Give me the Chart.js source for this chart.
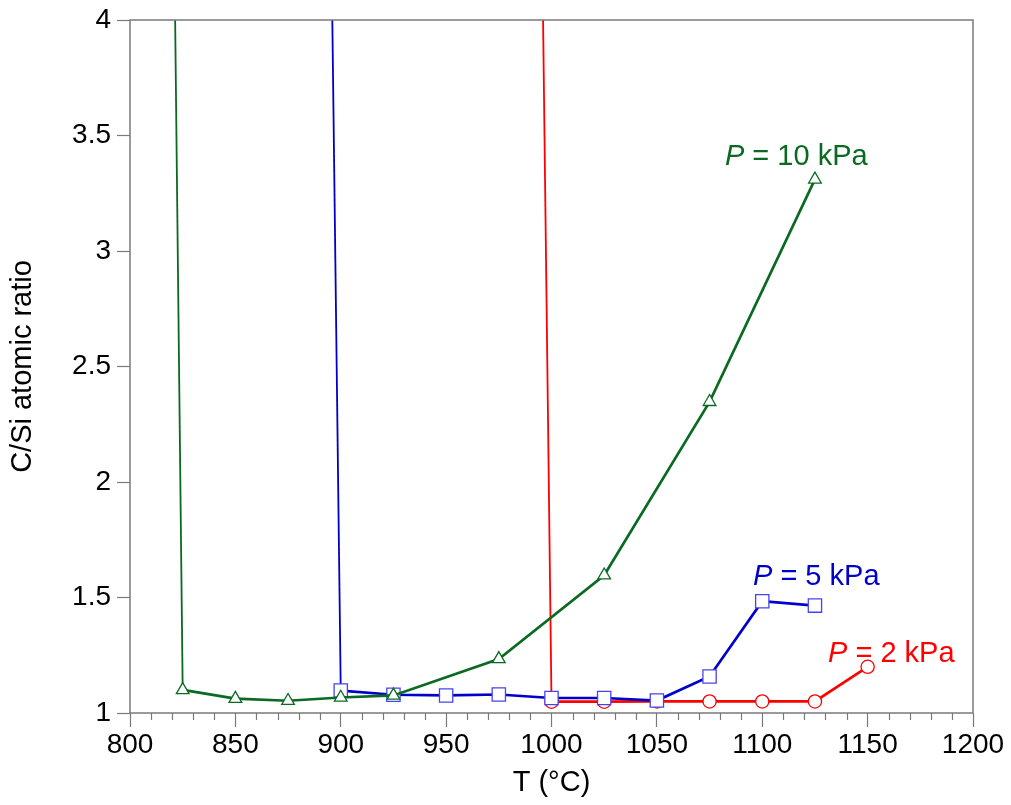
<!DOCTYPE html>
<html>
<head>
<meta charset="utf-8">
<title>C/Si atomic ratio vs temperature</title>
<script src="https://cdn.jsdelivr.net/npm/chart.js@4.4.1/dist/chart.umd.min.js"></script>
<style>
  html, body { margin: 0; padding: 0; background: #fff; }
  #wrap { width: 1011px; height: 805px; position: relative; }
</style>
</head>
<body>
<div id="wrap"><canvas id="main-chart"></canvas></div>
<script>
// ---- Data: deposition temperature (°C) vs C/Si atomic ratio per total pressure ----
// first point of each series sits above the plotted range (steep rise below threshold)
const temp10kPa = [815, 825, 850, 875, 900, 925, 975, 1025, 1075, 1125];
const ratio10kPa = [9.2, 1.10, 1.062, 1.053, 1.067, 1.076, 1.234, 1.596, 2.347, 3.31];

const temp5kPa = [890, 900, 925, 950, 975, 1000, 1025, 1050, 1075, 1100, 1125];
const ratio5kPa = [8.36, 1.097, 1.079, 1.076, 1.08, 1.065, 1.065, 1.054, 1.158, 1.484, 1.465];

const temp2kPa = [990, 1000, 1025, 1050, 1075, 1100, 1125, 1150];
const ratio2kPa = [8.42, 1.049, 1.049, 1.05, 1.05, 1.05, 1.05, 1.20];

const xTickLabels = [800, 850, 900, 950, 1000, 1050, 1100, 1150, 1200];
const yTickLabels = [1, 1.5, 2, 2.5, 3, 3.5, 4];

// series labels: [pressure text, anchor T, anchor ratio]
const seriesLabels = [
  { text: " = 10 kPa", x: 1082.3, y: 3.372 },
  { text: " = 5 kPa", x: 1095.6, y: 1.553 },
  { text: " = 2 kPa", x: 1131.2, y: 1.222 },
];

const GREEN = "#0b6a22";
const BLUE = "#0000cc";
const RED = "#ff0000";
const AXIS_GREY = "#7a7a7a";
const FONT = "'Liberation Sans', Arial, Helvetica, sans-serif";

function toPoints(xs, ys) {
  return xs.map((x, i) => ({ x, y: ys[i] }));
}

function series(label, xs, ys, colour, markerColour, style, radius) {
  return {
    label,
    data: toPoints(xs, ys),
    borderColor: colour,
    borderWidth: 2.7,
    pointStyle: style,
    pointRadius: (ctx) => (ctx.dataIndex === 0 ? 0 : radius),
    pointBorderColor: markerColour,
    pointBackgroundColor: "#ffffff",
    pointBorderWidth: 1.3,
    tension: 0,
    segment: {
      borderWidth: (ctx) => (ctx.p0DataIndex === 0 ? 1.8 : 2.7),
    },
  };
}

// frame around plot area + short minor ticks every 10 °C
const framePlugin = {
  id: "frame",
  afterDraw(chart) {
    const { ctx, chartArea: a } = chart;
    const xs = chart.scales.x;
    ctx.save();
    ctx.strokeStyle = AXIS_GREY;
    ctx.lineWidth = 1.5;
    ctx.strokeRect(a.left, a.top, a.right - a.left, a.bottom - a.top);
    ctx.lineWidth = 1.2;
    ctx.beginPath();
    for (let t = xs.min; t <= xs.max; t += 10) {
      if (t % 50 === 0) continue;
      const px = Math.round(xs.getPixelForValue(t)) + 0.5;
      ctx.moveTo(px, a.bottom);
      ctx.lineTo(px, a.bottom + 7);
    }
    ctx.stroke();
    ctx.restore();
  },
};

// "P = n kPa" labels with italic P
const seriesLabelPlugin = {
  id: "seriesLabels",
  afterDatasetsDraw(chart) {
    const { ctx } = chart;
    const xs = chart.scales.x;
    const ys = chart.scales.y;
    const colours = [GREEN, BLUE, RED];
    ctx.save();
    ctx.textBaseline = "alphabetic";
    ctx.textAlign = "left";
    seriesLabels.forEach((lab, i) => {
      const px = xs.getPixelForValue(lab.x);
      const py = ys.getPixelForValue(lab.y);
      ctx.fillStyle = colours[i];
      ctx.font = "italic 29px " + FONT;
      ctx.fillText("P", px, py);
      const w = ctx.measureText("P").width;
      ctx.font = "29px " + FONT;
      ctx.fillText(lab.text, px + w, py);
    });
    ctx.restore();
  },
};

const ctx = document.getElementById("main-chart").getContext("2d");

new Chart(ctx, {
  type: "line",
  data: {
    datasets: [
      series("P = 10 kPa", temp10kPa, ratio10kPa, GREEN, GREEN, "triangle", 7.3),
      series("P = 5 kPa", temp5kPa, ratio5kPa, BLUE, "#4545ee", "rect", 9.4),
      series("P = 2 kPa", temp2kPa, ratio2kPa, RED, RED, "circle", 6.6),
    ],
  },
  options: {
    responsive: true,
    maintainAspectRatio: false,
    animation: false,
    events: [],
    layout: { padding: { top: 17, right: 38, left: 0, bottom: 0 } },
    plugins: {
      legend: { display: false },
      tooltip: { enabled: false },
    },
    scales: {
      x: {
        type: "linear",
        min: 800,
        max: 1200,
        afterFit: (scale) => { scale.height = 92; },
        afterBuildTicks: (scale) => {
          scale.ticks = xTickLabels.map((v) => ({ value: v }));
        },
        border: { display: false },
        grid: {
          drawOnChartArea: false,
          tickLength: 14,
          tickColor: AXIS_GREY,
          tickWidth: 1.2,
        },
        ticks: {
          color: "#000",
          padding: 4,
          maxRotation: 0,
          font: { family: FONT, size: 28, lineHeight: 1 },
          callback: (v) => String(v),
        },
        title: {
          display: true,
          text: "T (°C)",
          color: "#000",
          font: { family: FONT, size: 29 },
          padding: { top: 0, bottom: 5 },
        },
      },
      y: {
        min: 1,
        max: 4,
        afterFit: (scale) => { scale.width = 130; },
        afterBuildTicks: (scale) => {
          scale.ticks = yTickLabels.map((v) => ({ value: v }));
        },
        border: { display: false },
        grid: {
          drawOnChartArea: false,
          tickLength: 13,
          tickColor: AXIS_GREY,
          tickWidth: 1.2,
        },
        ticks: {
          color: "#000",
          padding: 6,
          font: { family: FONT, size: 28, lineHeight: 1 },
          callback: (v) => String(v),
        },
        title: {
          display: true,
          text: "C/Si atomic ratio",
          color: "#000",
          font: { family: FONT, size: 29 },
          padding: { top: 6, bottom: 0 },
        },
      },
    },
  },
  plugins: [framePlugin, seriesLabelPlugin],
});
</script>
</body>
</html>
